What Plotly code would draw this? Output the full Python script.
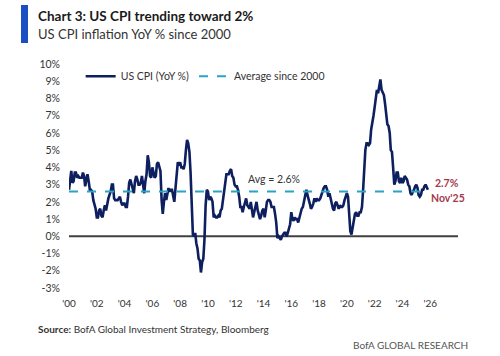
import plotly.graph_objects as go
import pandas as pd

years = list(range(2000, 2026))
cpi_2000 = [2.7, 3.2, 3.8, 3.1, 3.2, 3.7, 3.7, 3.4, 3.5, 3.4, 3.4, 3.4]
cpi_2001 = [3.7, 3.5, 2.9, 3.3, 3.6, 3.2, 2.7, 2.7, 2.6, 2.1, 1.9, 1.6]
cpi_2002 = [1.1, 1.1, 1.5, 1.6, 1.2, 1.1, 1.5, 1.8, 1.5, 2.0, 2.2, 2.4]
cpi_2003 = [2.6, 3.0, 3.0, 2.2, 2.1, 2.1, 2.1, 2.2, 2.3, 2.0, 1.8, 1.9]
cpi_2004 = [1.9, 1.7, 1.7, 2.3, 3.1, 3.3, 3.0, 2.7, 2.5, 3.2, 3.5, 3.3]
cpi_2005 = [3.0, 3.0, 3.1, 3.5, 2.8, 2.5, 3.2, 3.6, 4.7, 4.3, 3.5, 3.4]
cpi_2006 = [4.0, 3.6, 3.4, 3.5, 4.2, 4.3, 4.1, 3.8, 2.1, 1.3, 2.0, 2.5]
cpi_2007 = [2.1, 2.4, 2.8, 2.6, 2.7, 2.7, 2.4, 2.0, 2.8, 3.5, 4.3, 4.1]
cpi_2008 = [4.3, 4.0, 4.0, 3.9, 4.2, 5.0, 5.6, 5.4, 4.9, 3.7, 1.1, 0.1]
cpi_2009 = [0.0, 0.2, -0.4, -0.7, -1.3, -1.4, -2.1, -1.5, -1.3, -0.2, 1.8, 2.7]
cpi_2010 = [2.6, 2.1, 2.3, 2.2, 2.0, 1.1, 1.2, 1.1, 1.1, 1.2, 1.1, 1.5]
cpi_2011 = [1.6, 2.1, 2.7, 3.2, 3.6, 3.6, 3.6, 3.8, 3.9, 3.5, 3.4, 3.0]
cpi_2012 = [2.9, 2.9, 2.7, 2.3, 1.7, 1.7, 1.4, 1.7, 2.0, 2.2, 1.8, 1.7]
cpi_2013 = [1.6, 2.0, 1.5, 1.1, 1.4, 1.8, 2.0, 1.5, 1.2, 1.0, 1.2, 1.5]
cpi_2014 = [1.6, 1.1, 1.5, 2.0, 2.1, 2.1, 2.0, 1.7, 1.7, 1.7, 1.3, 0.8]
cpi_2015 = [-0.1, 0.0, -0.1, -0.2, 0.0, 0.1, 0.2, 0.2, 0.0, 0.2, 0.5, 0.7]
cpi_2016 = [1.4, 1.0, 0.9, 1.1, 1.0, 1.0, 0.8, 1.1, 1.5, 1.6, 1.7, 2.1]
cpi_2017 = [2.5, 2.7, 2.4, 2.2, 1.9, 1.6, 1.7, 1.9, 2.2, 2.0, 2.2, 2.1]
cpi_2018 = [2.1, 2.2, 2.4, 2.5, 2.8, 2.9, 2.9, 2.7, 2.3, 2.5, 2.2, 1.9]
cpi_2019 = [1.6, 1.5, 1.9, 2.0, 1.8, 1.6, 1.8, 1.7, 1.7, 1.8, 2.1, 2.3]
cpi_2020 = [2.5, 2.3, 1.5, 0.3, 0.1, 0.6, 1.0, 1.3, 1.4, 1.2, 1.2, 1.4]
cpi_2021 = [1.4, 1.7, 2.6, 4.2, 5.0, 5.4, 5.4, 5.3, 5.4, 6.2, 6.8, 7.0]
cpi_2022 = [7.5, 7.9, 8.5, 8.3, 8.6, 9.1, 8.5, 8.3, 8.2, 7.7, 7.1, 6.5]
cpi_2023 = [6.4, 6.0, 5.0, 4.9, 4.0, 3.0, 3.2, 3.7, 3.7, 3.2, 3.1, 3.4]
cpi_2024 = [3.1, 3.2, 3.5, 3.4, 3.3, 3.0, 2.9, 2.5, 2.4, 2.6, 2.7, 2.9]
cpi_2025 = [3.0, 2.8, 2.4, 2.3, 2.4, 2.7, 2.7, 2.9, 3.0, None, 2.7]

average_since_2000 = 2.6
last_value_label = "2.7%"
last_date_label = "Nov'25"
y_ticks = list(range(-3, 11))
x_tick_years = list(range(2000, 2027, 2))

all_years = [cpi_2000, cpi_2001, cpi_2002, cpi_2003, cpi_2004, cpi_2005, cpi_2006,
             cpi_2007, cpi_2008, cpi_2009, cpi_2010, cpi_2011, cpi_2012, cpi_2013,
             cpi_2014, cpi_2015, cpi_2016, cpi_2017, cpi_2018, cpi_2019, cpi_2020,
             cpi_2021, cpi_2022, cpi_2023, cpi_2024, cpi_2025]
dates, values = [], []
for yr, vals in zip(years, all_years):
    for m, v in enumerate(vals):
        if v is None:
            continue
        dates.append(pd.Timestamp(year=yr, month=m + 1, day=1))
        values.append(v)

FONT = "Lato"
NAVY = "#0D1F5E"
AVG_C = "#29A3C6"
PH = 224.0  # plot height in px
PW = 389.0  # plot width in px

fig = go.Figure()
fig.add_trace(go.Scatter(x=[pd.Timestamp("2000-01-01"), pd.Timestamp("2028-01-01")], y=[0, 0],
                         mode="lines", line=dict(color="#404040", width=2),
                         showlegend=False, hoverinfo="skip"))
fig.add_trace(go.Scatter(x=dates, y=values, mode="lines", name="US CPI (YoY %)",
                         line=dict(color=NAVY, width=2.6)))
fig.add_trace(go.Scatter(x=[dates[0], dates[-1]], y=[average_since_2000] * 2, mode="lines",
                         name="Average since 2000",
                         line=dict(color=AVG_C, width=2, dash="dash")))

fig.update_layout(
    width=500, height=356,
    margin=dict(l=69, r=42, t=64, b=68),
    paper_bgcolor="white", plot_bgcolor="white",
    font=dict(family=FONT, size=10, color="#333333"),
    showlegend=True,
    legend=dict(orientation="h", x=0.03, y=1.01, xanchor="left", yanchor="top",
                font=dict(size=10.5, color="#333333"), bgcolor="rgba(0,0,0,0)",
                itemwidth=30, tracegroupgap=0),
    xaxis=dict(type="date", range=["2000-01-01", "2028-01-01"],
               tickvals=[pd.Timestamp(year=y, month=1, day=1) for y in x_tick_years],
               ticktext=["'" + str(y)[2:] for y in x_tick_years],
               showgrid=False, zeroline=False, showline=False, ticks="",
               ticklabelstandoff=8, tickfont=dict(size=10, color="#333333")),
    yaxis=dict(range=[-3, 10], tickvals=y_ticks, ticktext=[f"{v}%" for v in y_ticks],
               showgrid=False, zeroline=False, showline=False, ticks="",
               ticklabelstandoff=8, tickfont=dict(size=10.5, color="#333333")),
)

fig.add_annotation(x=pd.Timestamp("2014-10-01"), y=average_since_2000, yshift=5,
                   text=f"Avg = {average_since_2000}%", showarrow=False,
                   yanchor="bottom", xanchor="center",
                   font=dict(size=10.5, color="#333333"))
fig.add_annotation(x=dates[-1], y=values[-1], text=f"<b>{last_value_label}</b>",
                   showarrow=False, xanchor="left", yanchor="middle", xshift=5, yshift=7,
                   font=dict(size=10.5, color="#A33A4E"))
fig.add_annotation(x=dates[-1], y=values[-1], text=f"<b>{last_date_label}</b>",
                   showarrow=False, xanchor="left", yanchor="middle", xshift=1, yshift=-8,
                   font=dict(size=10.5, color="#A33A4E"))

# Header
fig.add_shape(type="rect", xref="paper", yref="paper",
              x0=-48/PW, x1=-41/PW, y0=(288-5)/PH, y1=(288-43)/PH,
              fillcolor="#1A4FC4", line=dict(width=0))
fig.add_annotation(xref="paper", yref="paper", x=-33/PW, y=(288-16)/PH,
                   xanchor="left", yanchor="middle", showarrow=False,
                   text="<b>Chart 3: US CPI trending toward 2%</b>",
                   font=dict(size=13.5, color="#1a1a1a"))
fig.add_annotation(xref="paper", yref="paper", x=-33/PW, y=(288-34)/PH,
                   xanchor="left", yanchor="middle", showarrow=False,
                   text="US CPI inflation YoY % since 2000",
                   font=dict(size=13, color="#333333"))
fig.add_annotation(xref="paper", yref="paper", x=-33/PW, y=(288-329)/PH,
                   xanchor="left", yanchor="middle", showarrow=False,
                   text="<b>Source:</b> BofA Global Investment Strategy, Bloomberg",
                   font=dict(size=10, color="#333333"))
fig.add_annotation(xref="paper", yref="paper", x=(470-69)/PW, y=(288-345)/PH,
                   xanchor="right", yanchor="middle", showarrow=False,
                   text="BofA GLOBAL RESEARCH",
                   font=dict(size=10, color="#555555"))

fig.write_html("out.html", config={"displayModeBar": False},
               post_script="document.body.style.margin='0';")
